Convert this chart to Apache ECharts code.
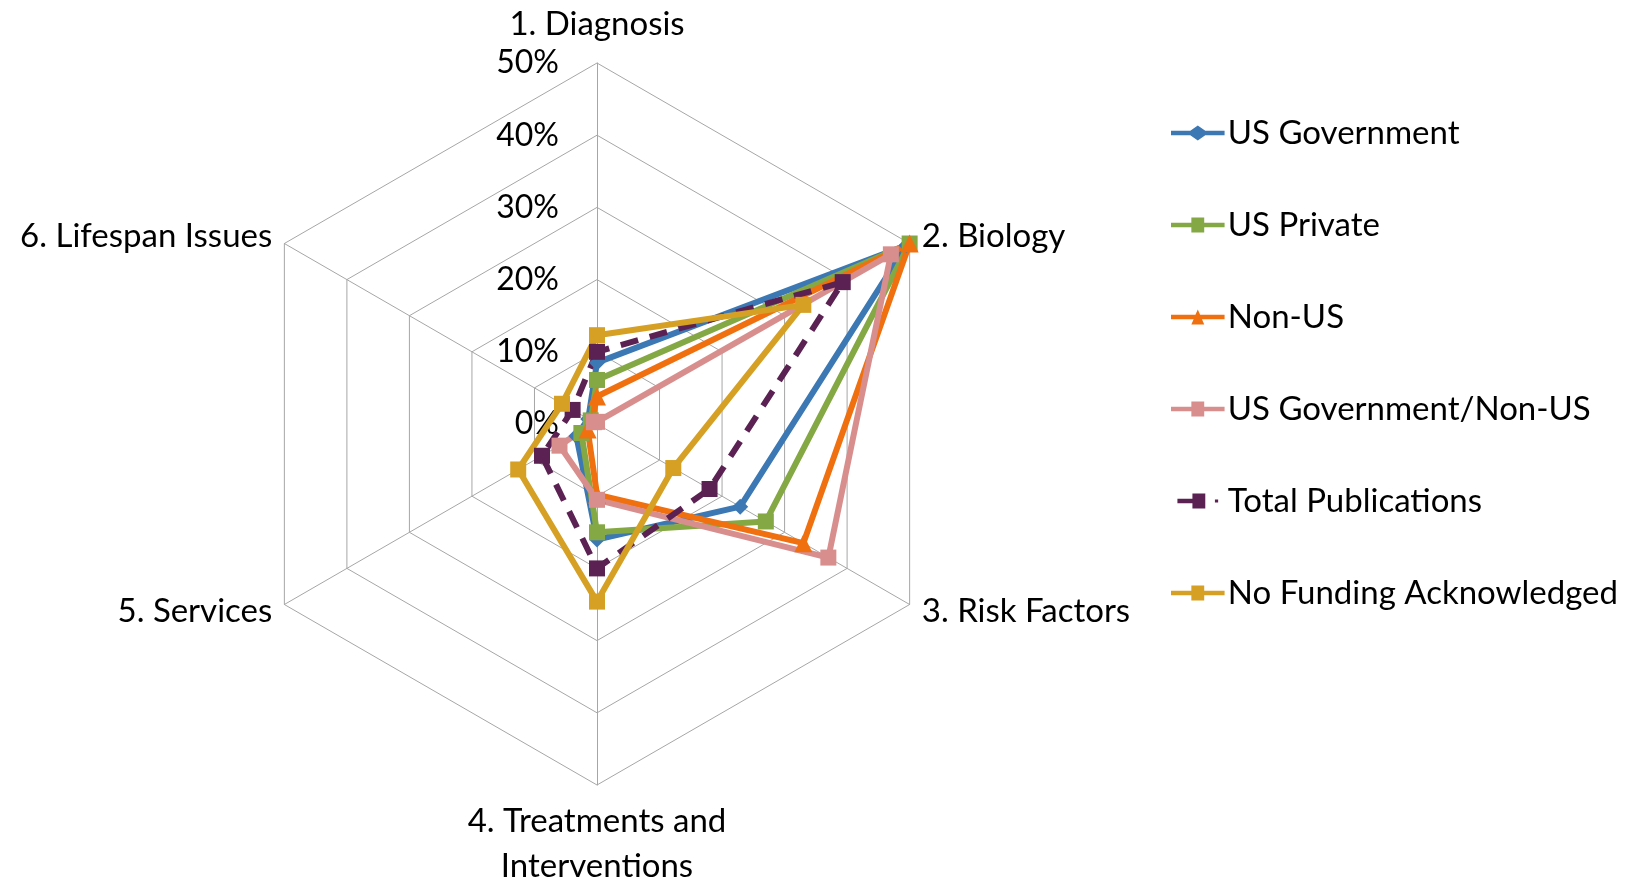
<!DOCTYPE html>
<html>
<head>
<meta charset="utf-8">
<title>Funding source by research area</title>
<script src="https://cdn.jsdelivr.net/npm/echarts@6/dist/echarts.min.js"></script>
<style>
  html, body { margin: 0; padding: 0; background: #fff; }
  #chart { width: 1646px; height: 882px; }
</style>
</head>
<body>
<div id="chart"></div>
<script>
  // research areas, clockwise from the top (as in the original)
  const categories = ['1. Diagnosis', '2. Biology', '3. Risk Factors', '4. Treatments and\nInterventions', '5. Services', '6. Lifespan Issues'];
  const axisMin = 0;
  const axisMax = 50;

  // share of publications per area, in %
  const usGovernment = [8.5, 49.5, 22.9, 16.0, 3.3, 1.4];
  const usPrivate = [6.1, 50.0, 27.0, 15.0, 2.5, 1.0];
  const nonUs = [3.8, 50.0, 33.0, 9.8, 1.5, 0.8];
  const usGovNonUs = [0.3, 47.0, 37.0, 10.5, 6.0, 0.5];
  const totalPublications = [10.0, 39.3, 18.0, 20.0, 8.8, 3.9];
  const noFunding = [12.3, 33.0, 12.2, 24.6, 12.6, 5.6];

  const seriesNames = ['US Government', 'US Private', 'Non-US', 'US Government/Non-US', 'Total Publications', 'No Funding Acknowledged'];

  // echarts lays indicators out counter-clockwise, so flip all but the first
  const order = [0, 5, 4, 3, 2, 1];

  const styles = [
    {values: usGovernment, color: '#3B78B4', symbol: 'diamond', size: 16, dash: 'solid',
      icon: 'path://M0,5H18L25,0L32,5H50V9H32L25,14L18,9H0Z'},
    {values: usPrivate, color: '#84A843', symbol: 'rect', size: 16, dash: 'solid',
      icon: 'path://M0,5H19V0H31V5H50V9H31V14H19V9H0Z'},
    {values: nonUs, color: '#F0700F', symbol: 'triangle', size: 18, dash: 'solid',
      icon: 'path://M0,5H22.8L25,0L27.2,5H50V9H28.9L31,14H19L21.1,9H0Z'},
    {values: usGovNonUs, color: '#D98E8E', symbol: 'rect', size: 16, dash: 'solid',
      icon: 'path://M0,5H19V0H31V5H50V9H31V14H19V9H0Z'},
    {values: totalPublications, color: '#5A2152', symbol: 'rect', size: 16, dash: [18, 12],
      icon: 'path://M0,5H14V9H0Z M14,0H26V14H14Z M35,5.5H38V8.5H35Z'},
    {values: noFunding, color: '#D5A024', symbol: 'rect', size: 16, dash: 'solid',
      icon: 'path://M0,5H19V0H31V5H50V9H31V14H19V9H0Z'}
  ];

  const myChart = echarts.init(document.getElementById('chart'));

  const indicator = order.map((k, i) => ({
    name: categories[k],
    min: axisMin,
    max: axisMax,
    axisLabel: {show: i === 0}
  }));

  const data = styles.map((s, i) => ({
    name: seriesNames[i],
    value: order.map(k => s.values[k]),
    symbol: s.symbol,
    symbolSize: s.size,
    lineStyle: {color: s.color, width: 6, type: s.dash},
    itemStyle: {color: s.color}
  }));

  myChart.setOption({
    animation: false,
    textStyle: {fontFamily: 'Lato'},
    legend: {
      orient: 'vertical',
      left: 1166,
      top: 108,
      itemWidth: 56,
      itemHeight: 15,
      itemGap: 52,
      textStyle: {fontSize: 33, color: '#000', lineHeight: 40, padding: [0, 0, 0, -3]},
      data: styles.map((s, i) => ({name: seriesNames[i], icon: s.icon}))
    },
    radar: {
      center: [597, 424],
      radius: 361,
      startAngle: 90,
      shape: 'polygon',
      splitNumber: 5,
      nameGap: 14,
      axisName: {
        color: '#000',
        fontSize: 33,
        lineHeight: 45
      },
      axisLine: {lineStyle: {color: '#A6A6A6', width: 1}},
      splitLine: {lineStyle: {color: '#A6A6A6', width: 1}},
      splitArea: {show: false},
      axisTick: {show: false},
      axisLabel: {
        show: false,
        color: '#000',
        fontSize: 32,
        margin: 38,
        formatter: '{value}%'
      },
      indicator: indicator
    },
    series: [{
      type: 'radar',
      data: data
    }]
  });
</script>
</body>
</html>
